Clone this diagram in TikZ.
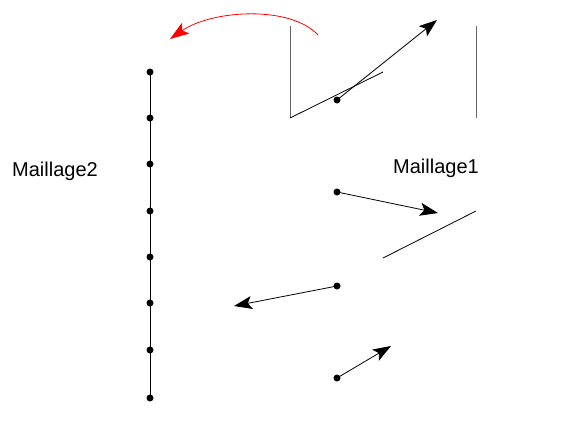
\documentclass[tikz,border=0pt]{standalone}
\usepackage{fontspec}
\setmainfont{Liberation Sans}
\usetikzlibrary{arrows.meta, positioning}

\begin{document}
\begin{tikzpicture}[x=1pt, y=-1pt,
  pt/.style={circle, fill=black, inner sep=0pt, minimum size=7pt},
  vec/.style={line width=0.8pt, -{Stealth[length=18pt, width=13pt, inset=4pt]}},
  edge/.style={line width=0.8pt},
  wall/.style={line width=1pt, black!60},
  lbl/.style={font=\fontsize{20}{24}\selectfont}
]
  \useasboundingbox (0,0) rectangle (561,439);

  % Maillage2
  \foreach \y [count=\i] in {72,118,164,211,257,303,350,398}
    \node[pt] (m\i) at (150,\y) {};
  \draw[edge] (m1.center) -- (m8.center);
  \node[lbl] (lab2) at (55,171) {Maillage2};

  % Maillage1
  \coordinate (a1) at (290,26);
  \coordinate (a2) at (290,118);
  \coordinate (a3) at (383,72);
  \coordinate (b1) at (476,26);
  \coordinate (b2) at (476,118);
  \coordinate (c1) at (476,211);
  \coordinate (c2) at (383,258);
  \draw[wall] (a1) -- (a2);
  \draw[edge] (a2) -- (a3);
  \draw[wall] (b1) -- (b2);
  \draw[edge] (c1) -- (c2);
  \node[lbl] (lab1) at (436,168) {Maillage1};

  % vecteurs
  \node[pt] (p1) at (337,100) {};
  \node[pt] (p2) at (337,192) {};
  \node[pt] (p3) at (337,286) {};
  \node[pt] (p4) at (337,378) {};
  \coordinate (t1) at (437,20);
  \coordinate (t2) at (438,213);
  \coordinate (t3) at (234,306);
  \coordinate (t4) at (391,346);
  \draw[vec] (p1.center) -- (t1);
  \draw[vec] (p2.center) -- (t2);
  \draw[vec] (p3.center) -- (t3);
  \draw[vec] (p4.center) -- (t4);

  % transfert
  \coordinate (r1) at (318,35);
  \coordinate (r2) at (170,39);
  \draw[red, line width=0.8pt, -{Stealth[length=19pt, width=13pt, inset=4pt]}]
    (r1) .. controls (290,5) and (212,10) .. (r2);
\end{tikzpicture}
\end{document}
